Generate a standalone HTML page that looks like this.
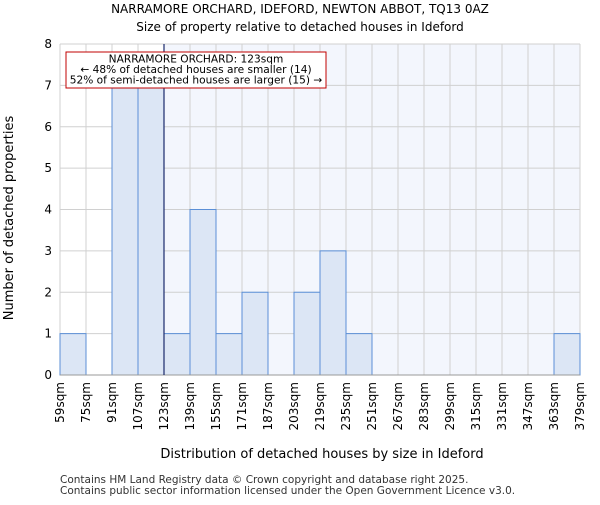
<!DOCTYPE html>
<html><head><meta charset="utf-8"><style>body{margin:0;background:#fff}svg{font-family:"DejaVu Sans","Liberation Sans",sans-serif}</style></head>
<body>
<svg id="c" width="600" height="500" xmlns="http://www.w3.org/2000/svg">
<text x="300" y="13" font-size="12" text-anchor="middle">NARRAMORE ORCHARD, IDEFORD, NEWTON ABBOT, TQ13 0AZ</text>
<text x="300" y="31" font-size="12" text-anchor="middle">Size of property relative to detached houses in Ideford</text>
<g id="plot"></g>
<text x="322" y="458" font-size="13" text-anchor="middle">Distribution of detached houses by size in Ideford</text>
<text transform="translate(13,218) rotate(-90)" font-size="13" text-anchor="middle">Number of detached properties</text>
<text x="60" y="483" font-size="10.5" fill="#333">Contains HM Land Registry data © Crown copyright and database right 2025.</text>
<text x="60" y="494" font-size="10.5" fill="#333">Contains public sector information licensed under the Open Government Licence v3.0.</text>
</svg>
<script>
const binLabels=["59sqm","75sqm","91sqm","107sqm","123sqm","139sqm","155sqm","171sqm","187sqm","203sqm","219sqm","235sqm","251sqm","267sqm","283sqm","299sqm","315sqm","331sqm","347sqm","363sqm","379sqm"];
const counts=[1,0,7,7,1,4,1,2,0,2,3,1,0,0,0,0,0,0,0,1];
const yTicks=[0,1,2,3,4,5,6,7,8];
const markerSize=123;
const binStart=59, binWidth=16;
const L=60,R=580,T=44,B=375,yMax=8;
const NS="http://www.w3.org/2000/svg";
const g=document.getElementById('plot');
const xs=v=>L+(v-binStart)/(binWidth*counts.length)*(R-L);
const ys=v=>B-v/yMax*(B-T);
function el(t,a){const e=document.createElementNS(NS,t);for(const k in a)e.setAttribute(k,a[k]);g.appendChild(e);return e;}
const bgR=el('rect',{x:xs(markerSize),y:T,width:R-xs(markerSize),height:B-T,fill:'#f3f6fd'});


for(let i=0;i<binLabels.length;i++){const x=xs(binStart+i*binWidth);const l=el('line',{x1:x,x2:x,y1:T,y2:B,stroke:'#d0d0d0'});

}
yTicks.forEach(v=>{const l=el('line',{x1:L,x2:R,y1:ys(v),y2:ys(v),stroke:'#d0d0d0'});


const t=el('text',{x:L-8,y:ys(v)+4,'font-size':12,'text-anchor':'end'});t.textContent=v;

});
counts.forEach((c,i)=>{if(!c)return;const x0=xs(binStart+i*binWidth),x1=xs(binStart+(i+1)*binWidth);
const r=el('rect',{x:x0,y:ys(c),width:x1-x0,height:B-ys(c),fill:'#dce6f5',stroke:'#5b8fd6','stroke-width':1});

});
binLabels.forEach((s,i)=>{const x=xs(binStart+i*binWidth);const t=el('text',{transform:`translate(${x+4},382) rotate(-90)`,'font-size':12,'text-anchor':'end'});t.textContent=s;

});
const ax=el('line',{x1:L,x2:R,y1:B,y2:B,stroke:'#999'});


const mx=xs(markerSize);
const ml=el('line',{x1:mx,x2:mx,y1:T,y2:B,stroke:'#1a2a6c','stroke-width':1.2});


const box=el('rect',{x:66,y:52,width:260,height:36,fill:'#fff',stroke:'#c00000','stroke-width':1});


["NARRAMORE ORCHARD: 123sqm","← 48% of detached houses are smaller (14)","52% of semi-detached houses are larger (15) →"].forEach((s,i)=>{const t=el('text',{x:196,y:62.5+i*10.5,'font-size':10.6,'text-anchor':'middle'});t.textContent=s;

});
</script>
</body></html>
